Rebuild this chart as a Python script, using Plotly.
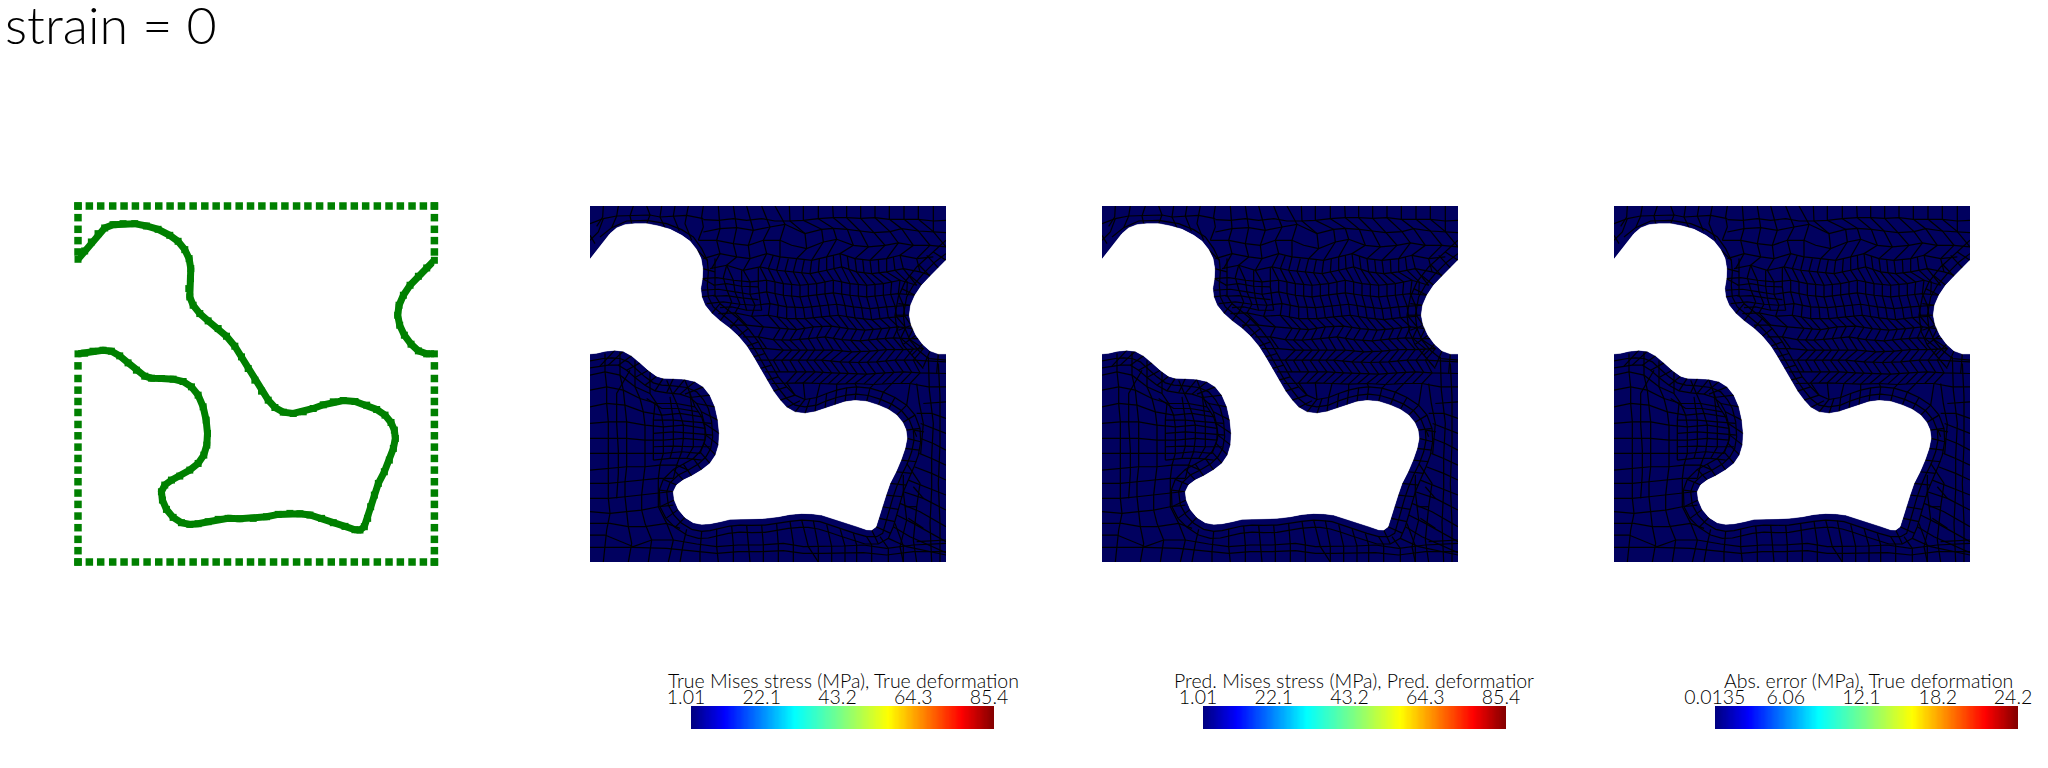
import numpy as np
import plotly.graph_objects as go

# ---- geometry (reading units: x 60..1128, y 47..1116, y downwards)
void_x = [60,80,100,120,140,165,195,230,265,300,335,360,380,393,398,397,392,395,405,425,450,480,505,530,550,570,590,610,630,650,675,705,735,765,795,825,855,890,925,955,980,998,1008,1011,1005,993,978,960,948,937,928,918,905,890,860,825,790,755,725,695,660,625,585,545,510,480,450,420,395,370,345,325,313,310,320,340,365,395,420,437,446,448,444,435,420,400,375,345,310,280,260,235,210,185,160,135,105,80,60]
void_y = [207,182,155,130,113,103,100,100,107,117,135,153,178,205,235,265,295,320,345,370,392,415,438,468,500,535,570,603,630,652,666,670,665,655,644,635,631,634,645,658,675,697,720,745,775,810,845,880,915,950,985,1010,1020,1019,1009,998,985,975,971,970,973,980,985,986,985,988,995,1001,1003,998,982,958,930,905,885,870,858,840,820,795,765,730,690,650,615,590,574,567,565,564,558,540,518,497,483,480,483,489,491]
notch_x = [1128,1105,1080,1055,1035,1022,1018,1024,1038,1058,1080,1105,1128]
notch_y = [210,233,258,285,315,345,375,405,435,462,482,491,491]

edge_x = [60,94,128,164,198,232,267,302,336,370,405,440,474,508,543,577,611,646,680,715,749,784,819,854,888,922,957,992,1026,1061,1095,1128]
upper_edge_y = [47,82,117,151,185]
lower_edge_y = [527,565,600,634,667,703,737,771,805,840,875,909,943,978,1013,1048,1082,1116]

mesh_lines = [
 # contour-hugging rows
 [(90,140),(125,112),(170,92),(230,90),(290,100),(335,118),(370,140),(395,175),(412,210),(415,245),(412,285),(415,320),(430,350),(455,372),(490,400),(515,425),(545,462),(565,495),(585,530),(605,565),(630,600),(650,625),(675,645),(705,650),(740,645),(770,632),(800,622),(830,615),(860,612),(895,616),(930,627),(965,642),(995,662),(1018,690),(1030,720),(1032,750),(1025,785),(1012,820),(995,855),(980,890),(968,925),(958,960),(948,995),(938,1030),(920,1040),(890,1040),(855,1030),(820,1018),(785,1005),(750,995),(720,992),(695,990),(660,994),(625,1000),(585,1005),(545,1006),(510,1005),(480,1008),(450,1015),(420,1022),(395,1024),(365,1018),(335,1000),(312,975),(295,945),(290,905),(300,878),(325,855),(355,840),(385,822),(408,800),(422,775),(428,740),(425,695),(415,655),(400,628),(380,605),(350,592),(310,587),(275,585),(250,578),(225,560),(200,538),(175,515),(150,505),(125,503),(100,505),(60,512)],
 [(435,205),(435,245),(433,285),(435,315),(450,340),(475,360),(505,385),(535,415),(565,455),(585,490),(605,525),(625,560),(650,590),(675,615),(705,628),(740,622),(770,610),(800,600),(830,593),(860,590),(900,594),(940,606),(975,622),(1010,645),(1035,675),(1050,715),(1052,755),(1045,795),(1032,830),(1015,870),(1000,905),(990,940),(980,975),(970,1010),(955,1045),(925,1062),(885,1062),(845,1050),(810,1038),(775,1026),(745,1017),(715,1012),(690,1012),(655,1015),(620,1022),(585,1027),(545,1028),(510,1026),(475,1030),(445,1037),(415,1044),(385,1045),(350,1035),(315,1012),(288,985),(270,950),(268,900),(280,868),(310,838),(340,822),(370,805),(390,785),(402,760),(408,735),(403,700),(394,665),(380,640),(360,622),(330,612),(290,608),(255,602),(225,585),(195,562),(170,540),(145,525),(115,525),(60,533)],
 # ties between the contour and the hugging rows
 [(380,178),(412,210)],[(398,235),(435,245)],[(397,265),(433,285)],[(395,320),(435,315)],[(425,370),(450,340)],[(450,392),(475,360)],[(480,415),(505,385)],[(505,438),(535,415)],[(530,468),(565,455)],[(550,500),(585,490)],[(570,535),(605,525)],[(590,570),(625,560)],[(610,603),(650,590)],[(630,630),(675,615)],[(650,652),(690,632)],[(675,666),(705,628)],[(705,670),(720,625)],[(735,665),(740,622)],[(765,655),(770,610)],[(795,644),(800,600)],[(825,635),(830,593)],[(855,631),(860,590)],[(890,634),(900,594)],[(925,645),(940,606)],[(955,658),(975,622)],[(980,675),(1010,645)],[(998,697),(1035,675)],[(1008,720),(1050,715)],[(1011,745),(1052,755)],[(1005,775),(1048,780)],[(993,810),(1040,815)],[(978,845),(1025,850)],[(960,880),(1010,885)],[(948,915),(997,920)],[(937,950),(985,958)],[(928,985),(975,995)],[(918,1010),(962,1030)],[(905,1020),(925,1062)],
 [(345,982),(315,1012)],[(325,958),(288,985)],[(313,930),(270,950)],[(310,905),(268,900)],[(320,885),(280,868)],[(340,870),(310,838)],[(365,858),(340,822)],[(395,840),(370,805)],[(420,820),(390,785)],[(437,795),(402,760)],[(446,765),(408,735)],[(448,730),(403,700)],[(444,690),(394,665)],[(435,650),(380,640)],[(420,615),(360,622)],[(400,590),(345,612)],[(375,574),(330,612)],[(345,567),(310,610)],[(310,565),(290,608)],[(280,564),(255,602)],[(260,558),(225,585)],[(235,540),(195,562)],[(210,518),(170,540)],[(185,497),(145,525)],[(160,483),(115,525)],[(135,480),(90,528)],
 # top strip
 [(60,100),(100,85),(140,77),(190,75),(240,74),(270,80),(310,77),(350,75),(400,85)],
 [(100,47),(98,80),(80,108)],[(145,47),(140,77),(125,112)],[(190,47),(180,77),(185,100)],[(230,47),(240,74),(230,100)],
 [(275,47),(270,80),(285,112)],[(315,47),(310,77),(328,122)],[(355,47),(350,75),(345,100),(365,150)],[(400,47),(395,80),(400,110),(385,150)],
 [(60,150),(85,125),(100,85)],[(60,135),(75,160)],
 # upper body rows
 [(400,88),(445,90),(490,85),(530,90),(575,85),(615,92),(658,92),(700,90),(745,85),(790,82),(830,82),(872,84),(915,82),(958,87),(1002,87),(1045,87),(1090,92),(1128,90)],
 [(400,125),(450,115),(500,112),(550,120),(600,110),(645,102),(705,130),(755,117),(790,114),(832,117),(870,122),(912,127),(960,124),(995,115),(1045,122),(1090,124),(1128,127)],
 [(385,150),(440,150),(490,160),(535,165),(580,150),(630,150),(665,165),(710,175),(760,155),(800,147),(850,165),(895,170),(945,165),(985,158),(1030,165),(1080,165),(1128,170)],
 [(400,205),(450,190),(500,200),(540,205),(590,190),(630,200),(680,205),(725,210),(770,200),(810,190),(855,205),(900,210),(950,205),(990,195),(1040,205),(1090,200)],
 [(420,235),(470,225),(520,240),(570,230),(620,240),(670,245),(720,250),(770,240),(815,230),(860,245),(905,250),(950,245),(1000,235),(1050,245),(1080,255)],
 [(395,265),(440,262),(490,270),(540,275),(590,270),(640,280),(690,285),(740,280),(790,270),(840,280),(890,285),(940,280),(990,270),(1040,285)],
 [(395,300),(445,297),(495,305),(540,312),(590,305),(640,315),(690,320),(740,315),(790,308),(840,315),(890,320),(940,315),(985,310),(1035,315)],
 [(410,340),(460,335),(510,342),(555,345),(600,340),(650,350),(700,352),(750,348),(800,342),(850,350),(900,355),(950,350),(1000,345),(1022,345)],
 [(445,370),(495,368),(545,378),(595,375),(650,385),(705,385),(755,380),(805,375),(855,383),(905,388),(955,382),(1005,378)],
 [(480,405),(530,405),(580,410),(630,415),(680,418),(730,410),(785,408),(835,415),(885,420),(935,415),(985,410),(1030,415)],
 [(520,440),(565,440),(610,448),(660,450),(715,445),(765,440),(815,448),(870,452),(920,447),(970,443),(1015,445),(1045,445)],
 [(540,475),(590,475),(640,480),(690,480),(735,478),(790,480),(845,485),(900,483),(950,478),(1000,478),(1060,475)],
 [(560,510),(610,510),(660,512),(710,512),(755,510),(810,515),(865,517),(920,515),(975,510),(1030,510),(1128,515)],
 [(585,545),(630,545),(680,545),(735,545),(785,548),(835,550),(890,552),(945,548),(1000,545),(1050,548),(1128,550)],
 [(605,580),(650,578),(700,578),(750,580),(800,582),(855,580),(910,583),(965,580),(1020,580),(1075,590),(1128,590)],
 # upper body columns
 [(445,47),(450,115),(440,150),(450,190),(425,235)],
 [(490,47),(500,112),(490,160),(500,200),(470,225),(490,270),(495,305),(510,342),(495,368),(530,405)],
 [(530,47),(550,120),(535,165),(540,205),(520,240),(540,275),(540,312),(555,345),(545,378),(580,410),(565,440),(590,475)],
 [(575,47),(600,110),(580,150),(590,190),(570,230),(590,270),(590,305),(600,340),(595,375),(630,415),(610,448),(640,480),(610,510),(630,545)],
 [(615,47),(645,102),(630,150),(630,200),(620,240),(640,280),(640,315),(650,350),(650,385),(680,418),(660,450),(690,480),(660,512),(680,545),(650,578),(675,615)],
 [(658,47),(660,92),(705,130),(710,175),(680,205),(670,245),(690,285),(690,320),(700,352),(705,385),(730,410),(715,445),(735,478),(710,512),(735,545),(700,578),(705,628)],
 [(700,47),(700,90),(755,117),(760,155),(725,210),(720,250),(740,280),(740,315),(750,348),(755,380),(785,408),(765,440),(790,480),(755,510),(785,548),(750,580),(740,622)],
 [(745,47),(745,85),(790,114),(800,147),(770,200),(770,240),(790,270),(790,308),(800,342),(805,375),(835,415),(815,448),(845,485),(810,515),(835,550),(800,582),(800,600)],
 [(788,47),(790,82),(832,117),(850,165),(810,190),(815,230),(840,280),(840,315),(850,350),(855,383),(885,420),(870,452),(900,483),(865,517),(890,552),(855,580),(860,590)],
 [(830,47),(830,82),(870,122),(895,170),(855,205),(860,245),(890,285),(890,320),(900,355),(905,388),(935,415),(920,447),(950,478),(920,515),(945,548),(910,583),(900,594)],
 [(872,47),(872,84),(912,127),(945,165),(900,210),(905,250),(940,280),(940,315),(950,350),(955,382),(985,410),(970,443),(1000,478),(975,510),(1000,545),(965,580),(940,606)],
 [(915,47),(915,82),(960,124),(985,158),(950,205),(950,245),(990,270),(985,310),(1000,345),(1005,378),(1030,415),(1015,445),(1060,475),(1030,510),(1050,548),(1020,580),(1010,645)],
 [(958,47),(958,87),(995,115),(1030,165),(990,195),(1000,235),(1040,285)],
 [(1002,47),(1002,87),(1045,122),(1080,165),(1040,205),(1050,245)],
 [(1045,47),(1045,87),(1090,124),(1128,170)],[(1090,47),(1090,92),(1090,124)],
 # in-between columns of the finer centre
 [(610,195),(595,235),(615,275),(615,310),(625,345),(622,380),(655,415),(635,450),(665,480),(635,512),(655,545)],
 [(655,205),(645,243),(665,282),(665,318),(675,351),(678,385),(705,414),(688,447),(712,480),(685,512),(708,545),(675,578)],
 [(703,208),(695,248),(715,283),(715,318),(725,350),(730,382),(757,409),(740,442),(762,479),(732,511),(760,546),(725,579)],
 [(748,205),(745,245),(765,275),(765,312),(775,345),(780,378),(810,411),(790,444),(817,482),(782,512),(810,549),(775,581)],
 [(790,195),(792,235),(815,275),(815,311),(825,346),(830,379),(860,417),(842,450),(872,484),(837,516),(862,551),(827,581)],
 [(832,197),(837,237),(865,282),(865,317),(875,352),(880,385),(910,417),(895,449),(925,481),(892,516),(917,550),(882,581)],
 [(878,207),(882,247),(915,282),(915,317),(925,352),(930,385),(960,412),(945,445),(975,478),(947,512),(972,546),(937,581)],
 [(925,207),(927,247),(965,275),(962,312),(975,347),(980,380),(1007,412),(992,444),(1030,476),(1002,510),(1025,546),(992,580)],
 [(970,200),(975,240),(1012,275),(1010,312)],
 # fine rows around the dense cluster near the upper lobe
 [(430,285),(470,280),(515,288),(565,290)],[(430,318),(470,316),(515,323),(565,328)],[(450,352),(485,350),(530,360),(575,360)],
 [(470,225),(460,262),(470,297),(485,335),(470,369)],[(515,240),(515,288),(520,323),(530,360)],[(565,230),(565,290),(570,328),(575,360)],
 # notch surroundings
 [(1128,190),(1095,215),(1060,250),(1030,285),(1010,320),(1000,375),(1005,415),(1020,450),(1045,480),(1075,505),(1128,510)],
 [(1128,150),(1085,190),(1040,230),(1005,275),(985,320),(975,375),(982,425),(1000,465),(1030,500),(1060,535)],
 [(1128,210),(1090,185)],[(1105,233),(1070,195)],[(1080,258),(1045,222)],[(1055,285),(1018,255)],[(1035,315),(995,295)],[(1022,345),(985,340)],[(1018,375),(975,375)],[(1024,405),(985,420)],[(1038,435),(1000,462)],[(1058,462),(1025,495)],[(1080,482),(1060,530)],[(1105,491),(1100,550)],
 # right strip
 [(1060,640),(1128,635)],[(1040,670),(1085,670),(1128,685)],[(1052,700),(1090,715),(1128,730)],[(1052,745),(1090,760),(1128,780)],[(1048,790),(1085,805),(1128,825)],[(1033,830),(1085,850),(1128,870)],[(1015,870),(1080,895),(1128,915)],[(1000,905),(1060,925),(1128,960)],[(990,940),(1050,965),(1128,1010)],[(980,975),(1030,1000),(1128,1055)],[(970,1010),(1020,1040),(1128,1088)],[(955,1045),(1010,1070),(1128,1095)],
 [(1075,500),(1078,600),(1090,700),(1085,800),(1085,900),(1080,1000),(1085,1116)],[(1040,580),(1048,640),(1060,700),(1052,790)],[(1105,520),(1110,620),(1110,760),(1105,880),(1110,1000),(1110,1116)],[(1010,820),(1050,880),(1040,950),(1030,1050),(1040,1116)],[(1000,855),(1000,905),(1010,990),(990,1070),(1000,1116)],
 [(1040,1055),(1128,1050)],[(1015,985),(1060,1015)],[(1030,890),(1060,925)],[(1005,950),(1040,950)],[(1040,740),(1032,720),(1062,725)],
 # lower-left body rows
 [(60,555),(105,545),(150,555),(195,590),(240,610)],
 [(60,600),(110,590),(160,600),(210,625),(260,640),(320,640),(375,650)],
 [(60,650),(110,640),(165,645),(220,665),(275,675),(330,670),(395,680)],
 [(60,700),(115,695),(170,695),(225,705),(280,710),(340,705),(405,715)],
 [(60,745),(115,745),(170,745),(225,750),(280,750),(340,745),(405,750)],
 [(60,790),(115,790),(170,790),(225,790),(280,790),(335,785),(390,790)],
 [(60,840),(115,835),(170,830),(225,830),(270,825),(320,825),(355,840)],
 [(60,880),(115,880),(165,875),(220,870),(265,865),(310,865)],
 [(60,925),(115,925),(165,920),(215,915),(265,910),(300,905)],
 [(60,965),(120,970),(170,965),(215,960),(265,950),(310,945)],
 # lower-left body fine rows
 [(230,625),(275,655),(325,655),(385,665)],[(250,690),(310,690),(370,695),(425,700)],[(250,730),(310,725),(370,730),(428,735)],[(250,770),(310,768),(370,770),(420,770)],[(250,810),(300,805),(350,805),(395,810)],
 [(255,640),(250,690),(250,730),(250,770),(250,810)],[(300,620),(310,690),(310,725),(310,768),(300,805)],[(360,610),(370,695),(370,730),(370,770),(350,805)],
 [(180,540),(140,610),(140,700),(145,780),(145,850),(140,925)],
 # lower-left body columns
 [(105,490),(105,545),(110,590),(110,640),(115,695),(115,745),(115,790),(115,835),(115,880),(115,925),(120,970),(110,1020),(100,1116)],
 [(150,485),(150,555),(160,600),(165,645),(170,695),(170,745),(170,790),(170,830),(165,875),(165,920),(170,965),(175,1010),(185,1060),(175,1116)],
 [(195,510),(195,590),(210,625),(220,665),(225,705),(225,750),(225,790),(225,830),(220,870),(215,915),(215,960),(225,1000),(245,1050),(235,1116)],
 [(240,545),(240,610),(260,640),(275,675),(280,710),(280,750),(280,790),(270,825),(265,865),(265,910),(265,950),(290,1000),(310,1050),(295,1116)],
 [(290,570),(320,640),(330,670),(340,705),(340,745),(335,785),(320,825),(310,865)],
 [(345,570),(375,650),(395,680),(405,715),(405,750),(390,790)],
 # bottom strip rows
 [(60,1035),(105,1035),(190,1070),(245,1050),(310,1050),(380,1062),(440,1070),(505,1065),(570,1065),(640,1060),(700,1070),(760,1070),(820,1068),(880,1065),(950,1075),(1030,1065),(1128,1060)],
 [(60,1072),(145,1072),(190,1072),(290,1075),(380,1085),(440,1090),(505,1085),(570,1085),(640,1082),(700,1090),(760,1090),(820,1088),(880,1088),(950,1095),(1030,1085),(1128,1085)],
 [(60,1000),(120,1000),(175,1010),(225,1010),(290,1000),(330,1015)],
 # bottom strip columns
 [(350,1018),(340,1060),(330,1116)],[(395,1024),(390,1085),(390,1116)],[(440,1016),(440,1070),(445,1116)],[(485,1008),(490,1065),(490,1116)],
 [(530,1006),(535,1065),(540,1116)],[(575,1005),(580,1065),(580,1116)],[(620,1002),(625,1065),(625,1116)],[(660,994),(670,1060),(670,1116)],
 [(695,990),(715,1070),(745,1116)],[(730,992),(745,1070),(745,1116)],[(770,1003),(785,1070),(785,1116)],[(810,1015),(825,1068),(825,1116)],
 [(850,1030),(860,1065),(860,1116)],[(890,1040),(905,1065),(905,1116)],[(930,1040),(955,1075),(955,1116)],[(975,1000),(1000,1068),(1000,1116)],
]

panel_x0 = 60
panel_x1 = 1128
panel_y0 = 47
panel_y1 = 1116

stress_min, stress_max = 1.01, 85.4
stress_ticks = [1.01, 22.1, 43.2, 64.3, 85.4]
stress_labels = ["1.01", "22.1", "43.2", "64.3", "85.4"]
error_min, error_max = 0.0135, 24.2
error_ticks = [0.4, 6.06, 12.1, 18.2, 24.2]
error_labels = ["0.0135", "6.06", "12.1", "18.2", "24.2"]
bar_titles = ["True Mises stress (MPa), True deformation",
              "Pred. Mises stress (MPa), Pred. deformatior",
              "Abs. error (MPa), True deformation"]
title_text = "strain = 0"

NAVY = "#01015f"
GREEN = "#008000"
FONT = "Lato"
jet = [[0, "#000080"], [0.11, "#0000ff"], [0.34, "#00ffff"], [0.5, "#80ff80"],
       [0.65, "#ffff00"], [0.89, "#ff0000"], [1, "#800000"]]

W, H = 2048, 768
fig = go.Figure()

def flat(lines):
    xs, ys = [], []
    for line in lines:
        xs += [p[0] for p in line] + [None]
        ys += [p[1] for p in line] + [None]
    return xs, ys

mesh_x, mesh_y = flat(mesh_lines)

layout = dict(width=W, height=H, margin=dict(l=0, r=0, t=0, b=0), paper_bgcolor="white",
              plot_bgcolor="white", showlegend=False, autosize=False)

def set_axes(i, px0, px1, py0, py1, xrange, yrange):
    s = "" if i == 1 else str(i)
    layout["xaxis" + s] = dict(domain=[px0 / W, px1 / W], range=xrange, showgrid=False, zeroline=False,
                               showticklabels=False, showline=False, ticks="", anchor="y" + s, automargin=False)
    layout["yaxis" + s] = dict(domain=[1 - py1 / H, 1 - py0 / H], range=yrange, showgrid=False, zeroline=False,
                               showticklabels=False, showline=False, ticks="", anchor="x" + s, automargin=False)

# panel 1: boundary nodes
set_axes(1, 78, 434.4, 206, 562, [panel_x0, panel_x1], [panel_y1, panel_y0])
side_y = upper_edge_y + lower_edge_y
bx = edge_x + edge_x + [edge_x[0]] * len(side_y) + [edge_x[-1]] * len(side_y)
by = [panel_y0] * len(edge_x) + [panel_y1] * len(edge_x) + side_y * 2
fig.add_trace(go.Scatter(x=bx, y=by, mode="markers", cliponaxis=False, hoverinfo="skip",
                         marker=dict(symbol="square", size=7.5, color=GREEN, line=dict(width=0))))
for cx, cy in ((void_x, void_y), (notch_x, notch_y)):
    fig.add_trace(go.Scatter(x=cx, y=cy, mode="lines+markers", cliponaxis=False, hoverinfo="skip",
                             line=dict(color=GREEN, width=7),
                             marker=dict(symbol="square", size=7, color=GREEN, line=dict(width=0))))

# panels 2-4: meshes
poly_x = [panel_x0, panel_x1] + notch_x[::-1] + [panel_x1, panel_x0] + void_x + [panel_x0]
poly_y = [panel_y1, panel_y1] + notch_y[::-1] + [panel_y0, panel_y0] + void_y + [panel_y1]

panel_lefts = [590, 1102, 1614]
bar_lefts = [691, 1203, 1715]
for k, (pl, bl) in enumerate(zip(panel_lefts, bar_lefts)):
    ax = 2 + 2 * k
    s = str(ax)
    set_axes(ax, pl, pl + 356, 206, 562, [panel_x0, panel_x1], [panel_y1, panel_y0])
    fig.add_trace(go.Scatter(x=poly_x, y=poly_y, xaxis="x" + s, yaxis="y" + s, mode="lines", fill="toself",
                             fillcolor=NAVY, line=dict(width=0), hoverinfo="skip"))
    fig.add_trace(go.Scatter(x=mesh_x, y=mesh_y, xaxis="x" + s, yaxis="y" + s, mode="lines",
                             line=dict(color="#000000", width=1.2), hoverinfo="skip"))
    for cx, cy in ((void_x, void_y), (notch_x, notch_y)):
        fig.add_trace(go.Scatter(x=cx, y=cy, xaxis="x" + s, yaxis="y" + s, mode="lines", fill="toself",
                                 fillcolor="white", line=dict(width=0.5, color="white"), hoverinfo="skip"))
    # colour bar
    bx_ = 3 + 2 * k
    sb = str(bx_)
    vmin, vmax = (stress_min, stress_max) if k < 2 else (error_min, error_max)
    ticks, labels = (stress_ticks, stress_labels) if k < 2 else (error_ticks, error_labels)
    ramp = np.linspace(vmin, vmax, 256)
    set_axes(bx_, bl, bl + 303, 706, 729, [vmin, vmax], [0, 1])
    layout["xaxis" + sb].update(showticklabels=True, side="top", tickmode="array", tickvals=ticks, ticktext=labels,
                                tickfont=dict(family=FONT, size=19.5, color="#000000", weight=300), tickangle=0,
                                ticklabelshift=-5, ticklabelstandoff=-3, ticklabeloverflow="allow")
    fig.add_trace(go.Heatmap(x=ramp, y=[0, 1], z=[ramp, ramp], colorscale=jet, showscale=False,
                             xaxis="x" + sb, yaxis="y" + sb, hoverinfo="skip", zsmooth="best"))

centers = [843, 1353.5, 1868]
annots = [dict(x=c / W, y=1 - 680 / H, xref="paper", yref="paper", text=t, showarrow=False, xanchor="center",
               yanchor="middle", font=dict(family=FONT, size=19.5, color="#000000", weight=300))
          for c, t in zip(centers, bar_titles)]
annots.append(dict(x=3 / W, y=1 - 24 / H, xref="paper", yref="paper", text=title_text, showarrow=False,
                   xanchor="left", yanchor="middle", font=dict(family=FONT, size=52, color="#000000", weight=300)))
fig.update_layout(annotations=annots, **layout)

fig.write_html("out.html", config=dict(displayModeBar=False),
               post_script="document.body.style.margin='0';")
